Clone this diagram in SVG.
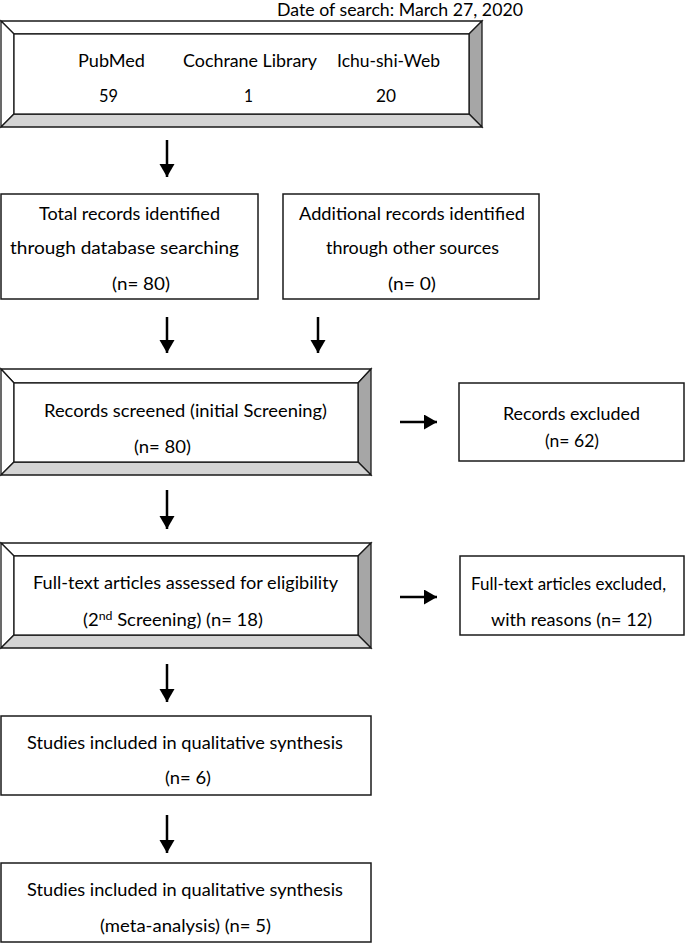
<svg xmlns="http://www.w3.org/2000/svg" width="685" height="943" viewBox="0 0 685 943">
<defs>
<style>
text{font-family:Lato,"Liberation Sans",Arial,sans-serif;font-size:16.5px;fill:#000}
.b{fill:#fff;stroke:#1a1a1a;stroke-width:1.5}
.lt{fill:#fff;stroke:#1a1a1a;stroke-width:1.3}
.dk{fill:#a6a6a6;stroke:#1a1a1a;stroke-width:1.3}
.md{fill:#d4d4d4;stroke:#1a1a1a;stroke-width:1.3}
.ar{stroke:#000;stroke-width:2.5;fill:none;marker-end:url(#ah)}
</style>
<marker id="ah" markerUnits="userSpaceOnUse" markerWidth="14" markerHeight="16" refX="13" refY="7.5" orient="auto">
<path d="M0,0 L13,7.5 L0,15 z" fill="#000"/>
</marker>
</defs>
<rect width="685" height="943" fill="#fff"/>

<text id="date" x="277" y="15.5" font-size="15" textLength="246" lengthAdjust="spacingAndGlyphs">Date of search: March 27, 2020</text>

<g id="databases">
<polygon class="lt" points="1,21 482,21 469,34 14,34"/>
<polygon class="lt" points="1,21 14,34 14,114 1,127"/>
<polygon class="dk" points="482,21 482,127 469,114 469,34"/>
<polygon class="md" points="1,127 14,114 469,114 482,127"/>
<rect class="lt" x="14" y="34" width="455" height="80"/>
<text x="78" y="67" textLength="67" lengthAdjust="spacingAndGlyphs">PubMed</text>
<text x="183" y="67" textLength="134" lengthAdjust="spacingAndGlyphs">Cochrane Library</text>
<text x="337" y="67" textLength="103" lengthAdjust="spacingAndGlyphs">Ichu-shi-Web</text>
<text x="99" y="102" textLength="19" lengthAdjust="spacingAndGlyphs">59</text>
<text x="244" y="102" textLength="9" lengthAdjust="spacingAndGlyphs">1</text>
<text x="376" y="102" textLength="20" lengthAdjust="spacingAndGlyphs">20</text>
</g>

<g id="total">
<rect class="b" x="1" y="194" width="257" height="105"/>
<text x="39" y="220" textLength="181" lengthAdjust="spacingAndGlyphs">Total records identified</text>
<text x="10" y="254" textLength="229" lengthAdjust="spacingAndGlyphs">through database searching</text>
<text x="112" y="290" textLength="58" lengthAdjust="spacingAndGlyphs">(n= 80)</text>
</g>

<g id="additional">
<rect class="b" x="283" y="194" width="256" height="105"/>
<text x="299" y="220" textLength="226" lengthAdjust="spacingAndGlyphs">Additional records identified</text>
<text x="326" y="254" textLength="173" lengthAdjust="spacingAndGlyphs">through other sources</text>
<text x="388" y="290" textLength="48" lengthAdjust="spacingAndGlyphs">(n= 0)</text>
</g>

<g id="screened">
<polygon class="lt" points="1,369 371,369 358,383 14,383"/>
<polygon class="lt" points="1,369 14,383 14,462 1,475"/>
<polygon class="dk" points="371,369 371,475 358,462 358,383"/>
<polygon class="md" points="1,475 14,462 358,462 371,475"/>
<rect class="lt" x="14" y="383" width="344" height="79"/>
<text x="44" y="417" textLength="283" lengthAdjust="spacingAndGlyphs">Records screened (initial Screening)</text>
<text x="134" y="453" textLength="57" lengthAdjust="spacingAndGlyphs">(n= 80)</text>
</g>

<g id="excluded1">
<rect class="b" x="459" y="383" width="225" height="78"/>
<text x="503" y="420" textLength="137" lengthAdjust="spacingAndGlyphs">Records excluded</text>
<text x="545" y="447" textLength="54" lengthAdjust="spacingAndGlyphs">(n= 62)</text>
</g>

<g id="fulltext">
<polygon class="lt" points="1,543 371,543 358,556 14,556"/>
<polygon class="lt" points="1,543 14,556 14,635 1,648"/>
<polygon class="dk" points="371,543 371,648 358,635 358,556"/>
<polygon class="md" points="1,648 14,635 358,635 371,648"/>
<rect class="lt" x="14" y="556" width="344" height="79"/>
<text x="33" y="589" textLength="305" lengthAdjust="spacingAndGlyphs">Full-text articles assessed for eligibility</text>
<text x="83" y="626" textLength="180" lengthAdjust="spacingAndGlyphs">(2<tspan font-size="11" dy="-6">nd</tspan><tspan dy="6"> Screening) (n= 18)</tspan></text>
</g>

<g id="excluded2">
<rect class="b" x="460" y="556" width="224" height="79"/>
<text x="471" y="590" textLength="195" lengthAdjust="spacingAndGlyphs">Full-text articles excluded,</text>
<text x="491" y="626" textLength="161" lengthAdjust="spacingAndGlyphs">with reasons (n= 12)</text>
</g>

<g id="qualitative">
<rect class="b" x="1" y="716" width="370" height="79"/>
<text x="27" y="749" textLength="316" lengthAdjust="spacingAndGlyphs">Studies included in qualitative synthesis</text>
<text x="165" y="784" textLength="46" lengthAdjust="spacingAndGlyphs">(n= 6)</text>
</g>

<g id="meta">
<rect class="b" x="1" y="863" width="370" height="79"/>
<text x="27" y="896" textLength="316" lengthAdjust="spacingAndGlyphs">Studies included in qualitative synthesis</text>
<text x="100" y="932" textLength="171" lengthAdjust="spacingAndGlyphs">(meta-analysis) (n= 5)</text>
</g>

<g id="connectors">
<line class="ar" x1="167" y1="140" x2="167" y2="177"/>
<line class="ar" x1="167" y1="317" x2="167" y2="353"/>
<line class="ar" x1="318" y1="317" x2="318" y2="353"/>
<line class="ar" x1="400" y1="422" x2="437" y2="422"/>
<line class="ar" x1="167" y1="490" x2="167" y2="529"/>
<line class="ar" x1="400" y1="597" x2="437" y2="597"/>
<line class="ar" x1="167" y1="664" x2="167" y2="702"/>
<line class="ar" x1="167" y1="815" x2="167" y2="853"/>
</g>
</svg>
